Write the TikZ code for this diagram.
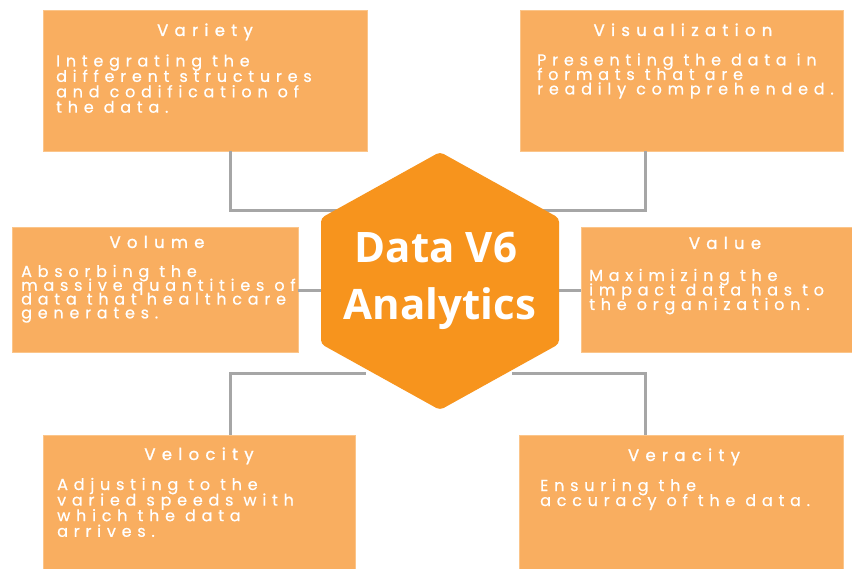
\documentclass[tikz,border=0pt]{standalone}
\usepackage{fontspec}
\newfontfamily\boxfont[LetterSpace=36,FakeBold=0.6]{Poppins}
\newfontfamily\headfont[LetterSpace=38,FakeBold=1.2]{Poppins}
\newfontfamily\hexfont{Open Sans}
\newcommand\mybodysetup{\lineskiplimit=-30pt\relax\lineskip=0pt\relax}
\definecolor{boxfill}{HTML}{F9AE60}
\definecolor{boxedge}{HTML}{FBC58A}
\definecolor{hexfill}{HTML}{F7941D}
\definecolor{linegray}{HTML}{A6A6A6}
\begin{document}
\begin{tikzpicture}[x=1pt,y=-1pt,
  box/.style={draw=boxedge, line width=0.8pt, fill=boxfill, inner sep=0pt},
  head/.style={anchor=base, inner sep=0pt, text=white, font=\headfont\fontsize{16.5}{15}\selectfont},
  body/.style={anchor=base west, align=left, inner sep=0pt, text=white,
    font=\boxfont\fontsize{16}{#1}\selectfont\mybodysetup},
  hext/.style={anchor=base, inner sep=0pt, text=white, font=\hexfont\bfseries\fontsize{42}{50}\selectfont},
  conn/.style={draw=linegray, line width=3pt}]
\useasboundingbox (0,0) rectangle (852,569);
\clip (0,0) rectangle (852,569);
\fill[white] (0,0) rectangle (852,569);

% boxes
\node[box, minimum width=324, minimum height=141] (variety) at (205,80.5) {};
\node[box, minimum width=323, minimum height=141] (visual) at (681.5,80.5) {};
\node[box, minimum width=286, minimum height=125] (volume) at (155,289.5) {};
\node[box, minimum width=287, minimum height=125] (value) at (724.5,289.5) {};
\node[box, minimum width=312, minimum height=150] (velocity) at (199,510) {};
\node[box, minimum width=324, minimum height=150] (veracity) at (681,510) {};

% connector helper coordinates
\coordinate (lx) at (230,0);
\coordinate (rx) at (645,0);
\coordinate (hUL) at (340,211);
\coordinate (hUR) at (540,211);
\coordinate (hL) at (330,291);
\coordinate (hR) at (550,291);
\coordinate (hLL) at (366,374);
\coordinate (hLR) at (512,374);

\draw[conn] (variety.south -| lx) |- (hUL);
\draw[conn] (visual.south -| rx) |- (hUR);
\draw[conn] (volume.east |- hL) -- (hL);
\draw[conn] (value.west |- hR) -- (hR);
\draw[conn] (velocity.north -| lx) |- (hLL);
\draw[conn] (veracity.north -| rx) |- (hLR);

% hexagon
\fill[hexfill, rounded corners=4pt] (440,152) -- (559,218) -- (559,344) -- (440,410) -- (321,344) -- (321,218) -- cycle;
\node[hext] (hex1) at (436,263) {Data V6};
\node[hext] (hex2) at (440,320) {Analytics};

% texts (body nodes anchored at the baseline of their last line)
\node[head] (varietyT) at (205,36) {Variety};
\node[body=15.4] (varietyB) at (56,112.7) {Integrating the\\different structures\\and codification of\\the data.};

\node[head] (visualT) at (683,36) {Visualization};
\node[body=14.5] (visualB) at (537,94.5) {Presenting the data in\\formats that are\\readily comprehended.};

\node[head] (volumeT) at (157,248) {Volume};
\node[body=13.8] (volumeB) at (21,318.4) {Absorbing the\\massive quantities of\\data that healthcare\\generates.};

\node[head] (valueT) at (725,249) {Value};
\node[body=14.5] (valueB) at (589,310) {Maximizing the\\impact data has to\\the organization.};

\node[head] (velocityT) at (199,460) {Velocity};
\node[body=15.6] (velocityB) at (57,536.8) {Adjusting to the\\varied speeds with\\which the data\\arrives.};

\node[head] (veracityT) at (684,461) {Veracity};
\node[body=15] (veracityB) at (540,506) {Ensuring the\\accuracy of the data.};
\end{tikzpicture}
\end{document}
